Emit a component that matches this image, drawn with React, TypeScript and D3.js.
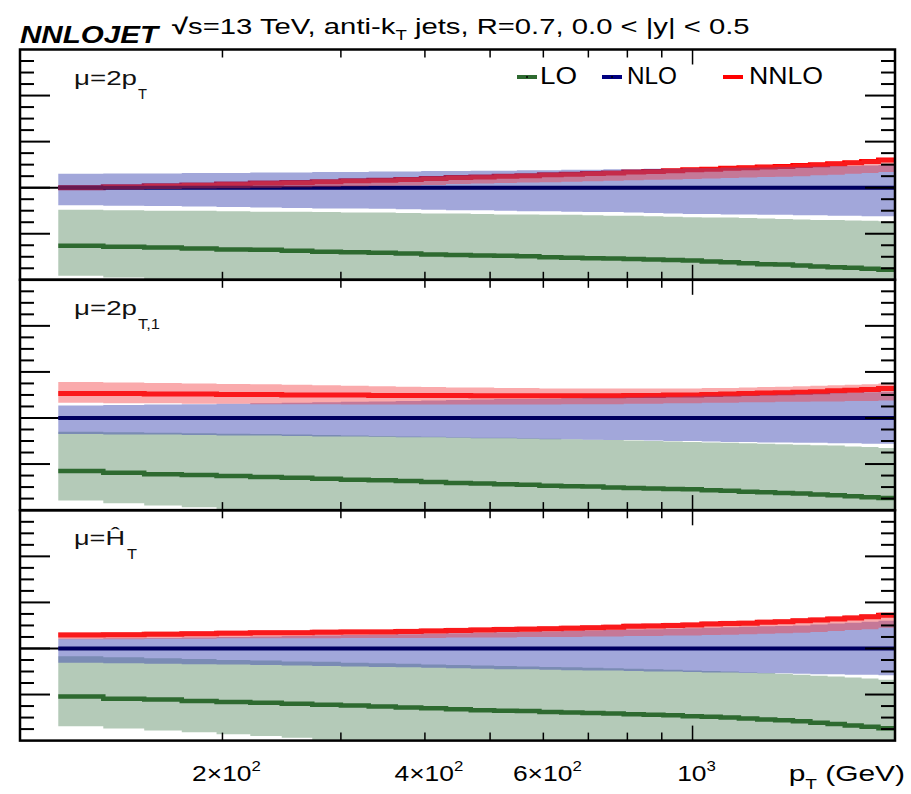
import React from 'react';
import * as d3 from 'd3';

// ---------- data ----------
const binEdges = [114, 133, 153, 174, 196, 220, 245, 272, 300, 330, 362, 395, 430, 468, 507, 548, 592, 638, 686, 737, 790, 846, 905, 967, 1032, 1101, 1172, 1248, 1327, 1410, 1497, 1588, 1684, 1784, 1890, 2000];

const xMinorTicks = [200, 300, 400, 500, 600, 700, 800, 900];
const xMajorTicks = [1000];
const xTickLabels = [
  { v: 200, base: '2×10', exp: '2' },
  { v: 400, base: '4×10', exp: '2' },
  { v: 600, base: '6×10', exp: '2' },
  { v: 1000, base: '10', exp: '3' },
];
const legendLabels = ['LO', 'NLO', 'NNLO'];

// panel 1: mu = 2 pT
const p1LO = [0.874, 0.872, 0.870, 0.868, 0.866, 0.865, 0.863, 0.861, 0.860, 0.859, 0.857, 0.855, 0.854, 0.853, 0.852, 0.851, 0.849, 0.848, 0.847, 0.846, 0.845, 0.844, 0.843, 0.842, 0.840, 0.838, 0.836, 0.834, 0.833, 0.831, 0.829, 0.827, 0.826, 0.824, 0.822];
const p1LOHi = [0.952, 0.951, 0.950, 0.950, 0.949, 0.948, 0.948, 0.947, 0.946, 0.946, 0.945, 0.944, 0.944, 0.943, 0.942, 0.942, 0.941, 0.941, 0.940, 0.939, 0.939, 0.938, 0.937, 0.936, 0.935, 0.935, 0.934, 0.933, 0.932, 0.931, 0.930, 0.930, 0.929, 0.928, 0.927];
const p1LOLo = [0.809, 0.805, 0.801, 0.797, 0.794, 0.791, 0.788, 0.785, 0.782, 0.779, 0.776, 0.773, 0.770, 0.767, 0.764, 0.761, 0.758, 0.755, 0.752, 0.749, 0.746, 0.743, 0.740, 0.737, 0.734, 0.731, 0.728, 0.725, 0.722, 0.719, 0.716, 0.713, 0.710, 0.707, 0.704];
const p1NLOHi = [1.030, 1.031, 1.031, 1.032, 1.032, 1.033, 1.033, 1.034, 1.034, 1.035, 1.035, 1.036, 1.036, 1.037, 1.037, 1.038, 1.038, 1.039, 1.039, 1.040, 1.040, 1.041, 1.041, 1.042, 1.042, 1.043, 1.043, 1.044, 1.045, 1.045, 1.046, 1.047, 1.047, 1.048, 1.049];
const p1NLOLo = [0.962, 0.961, 0.960, 0.959, 0.958, 0.957, 0.956, 0.955, 0.955, 0.954, 0.953, 0.952, 0.951, 0.951, 0.950, 0.949, 0.949, 0.948, 0.947, 0.947, 0.946, 0.945, 0.944, 0.943, 0.943, 0.942, 0.942, 0.941, 0.941, 0.940, 0.940, 0.939, 0.939, 0.938, 0.938];
const p1NNLO = [1.000, 1.002, 1.004, 1.006, 1.008, 1.010, 1.011, 1.013, 1.015, 1.016, 1.018, 1.020, 1.022, 1.023, 1.025, 1.026, 1.028, 1.029, 1.031, 1.032, 1.034, 1.035, 1.037, 1.039, 1.040, 1.042, 1.043, 1.045, 1.046, 1.048, 1.050, 1.052, 1.054, 1.057, 1.060];
const p1NNLOHi = [1.004, 1.006, 1.008, 1.010, 1.012, 1.014, 1.015, 1.017, 1.019, 1.020, 1.022, 1.024, 1.026, 1.027, 1.029, 1.030, 1.032, 1.033, 1.035, 1.036, 1.038, 1.039, 1.041, 1.043, 1.044, 1.046, 1.047, 1.049, 1.050, 1.052, 1.054, 1.056, 1.058, 1.061, 1.064];
const p1NNLOLo = [0.995, 0.996, 0.997, 0.998, 0.999, 1.000, 1.001, 1.002, 1.003, 1.004, 1.005, 1.006, 1.008, 1.009, 1.010, 1.011, 1.012, 1.013, 1.014, 1.015, 1.016, 1.017, 1.018, 1.019, 1.020, 1.021, 1.022, 1.023, 1.024, 1.025, 1.027, 1.028, 1.030, 1.032, 1.034];

// panel 2: mu = 2 pT,1
const p2LO = [0.885, 0.881, 0.878, 0.876, 0.874, 0.872, 0.870, 0.868, 0.866, 0.865, 0.863, 0.861, 0.859, 0.858, 0.856, 0.855, 0.853, 0.852, 0.851, 0.849, 0.848, 0.847, 0.846, 0.845, 0.843, 0.842, 0.840, 0.839, 0.837, 0.836, 0.834, 0.832, 0.830, 0.828, 0.826];
const p2LOHi = [0.970, 0.969, 0.968, 0.967, 0.966, 0.965, 0.964, 0.963, 0.962, 0.961, 0.960, 0.959, 0.958, 0.957, 0.957, 0.956, 0.955, 0.954, 0.953, 0.952, 0.951, 0.950, 0.949, 0.948, 0.947, 0.946, 0.945, 0.944, 0.943, 0.942, 0.941, 0.940, 0.938, 0.937, 0.935];
const p2LOLo = [0.821, 0.815, 0.810, 0.806, 0.802, 0.799, 0.796, 0.793, 0.790, 0.787, 0.784, 0.781, 0.778, 0.775, 0.772, 0.769, 0.766, 0.763, 0.760, 0.757, 0.754, 0.751, 0.748, 0.745, 0.742, 0.739, 0.736, 0.733, 0.730, 0.727, 0.724, 0.721, 0.718, 0.715, 0.712];
const p2NLOHi = [1.027, 1.028, 1.029, 1.030, 1.031, 1.032, 1.033, 1.034, 1.035, 1.036, 1.037, 1.038, 1.039, 1.040, 1.041, 1.041, 1.042, 1.043, 1.044, 1.044, 1.045, 1.046, 1.046, 1.047, 1.048, 1.048, 1.049, 1.050, 1.051, 1.052, 1.053, 1.054, 1.055, 1.056, 1.057];
const p2NLOLo = [0.965, 0.964, 0.964, 0.963, 0.962, 0.962, 0.961, 0.960, 0.960, 0.959, 0.958, 0.958, 0.957, 0.956, 0.956, 0.955, 0.954, 0.954, 0.953, 0.952, 0.952, 0.951, 0.950, 0.950, 0.949, 0.948, 0.948, 0.947, 0.947, 0.946, 0.946, 0.945, 0.945, 0.944, 0.944];
const p2NNLO = [1.053, 1.053, 1.052, 1.052, 1.051, 1.051, 1.050, 1.050, 1.050, 1.049, 1.049, 1.049, 1.049, 1.048, 1.048, 1.048, 1.048, 1.048, 1.048, 1.048, 1.049, 1.049, 1.050, 1.050, 1.051, 1.052, 1.053, 1.054, 1.055, 1.056, 1.057, 1.059, 1.060, 1.062, 1.064];
const p2NNLOHi = [1.078, 1.077, 1.076, 1.075, 1.074, 1.073, 1.072, 1.071, 1.070, 1.069, 1.068, 1.067, 1.066, 1.066, 1.065, 1.065, 1.064, 1.064, 1.064, 1.064, 1.064, 1.064, 1.064, 1.064, 1.065, 1.065, 1.066, 1.067, 1.068, 1.069, 1.070, 1.071, 1.072, 1.073, 1.075];
const p2NNLOLo = [1.033, 1.032, 1.032, 1.031, 1.031, 1.030, 1.030, 1.030, 1.029, 1.029, 1.029, 1.029, 1.029, 1.029, 1.029, 1.029, 1.029, 1.030, 1.030, 1.030, 1.031, 1.031, 1.032, 1.032, 1.033, 1.033, 1.034, 1.034, 1.035, 1.035, 1.036, 1.036, 1.037, 1.037, 1.038];

// panel 3: mu = HT-hat
const p3LO = [0.896, 0.891, 0.889, 0.886, 0.884, 0.882, 0.880, 0.878, 0.876, 0.874, 0.872, 0.870, 0.868, 0.866, 0.865, 0.864, 0.862, 0.861, 0.860, 0.859, 0.857, 0.856, 0.855, 0.853, 0.852, 0.850, 0.848, 0.846, 0.844, 0.842, 0.839, 0.836, 0.833, 0.830, 0.827];
const p3LOHi = [0.983, 0.981, 0.979, 0.977, 0.975, 0.974, 0.972, 0.971, 0.969, 0.968, 0.967, 0.965, 0.964, 0.963, 0.962, 0.961, 0.960, 0.959, 0.958, 0.957, 0.956, 0.955, 0.954, 0.952, 0.951, 0.950, 0.948, 0.947, 0.945, 0.943, 0.941, 0.939, 0.937, 0.935, 0.932];
const p3LOLo = [0.831, 0.826, 0.822, 0.818, 0.814, 0.810, 0.806, 0.801, 0.797, 0.794, 0.791, 0.788, 0.785, 0.782, 0.779, 0.776, 0.773, 0.770, 0.767, 0.764, 0.761, 0.758, 0.755, 0.752, 0.749, 0.746, 0.743, 0.740, 0.737, 0.734, 0.731, 0.728, 0.725, 0.722, 0.719];
const p3NLOHi = [1.021, 1.022, 1.023, 1.024, 1.025, 1.026, 1.027, 1.028, 1.029, 1.030, 1.031, 1.032, 1.033, 1.034, 1.035, 1.036, 1.037, 1.038, 1.039, 1.040, 1.041, 1.042, 1.043, 1.044, 1.045, 1.046, 1.047, 1.048, 1.049, 1.050, 1.052, 1.054, 1.056, 1.058, 1.060];
const p3NLOLo = [0.969, 0.968, 0.967, 0.966, 0.965, 0.964, 0.963, 0.962, 0.961, 0.960, 0.959, 0.958, 0.957, 0.956, 0.955, 0.955, 0.954, 0.953, 0.952, 0.952, 0.951, 0.950, 0.950, 0.949, 0.948, 0.948, 0.947, 0.946, 0.946, 0.945, 0.944, 0.944, 0.943, 0.943, 0.942];
const p3NNLO = [1.029, 1.030, 1.031, 1.032, 1.033, 1.034, 1.034, 1.035, 1.036, 1.036, 1.037, 1.038, 1.039, 1.040, 1.041, 1.042, 1.043, 1.044, 1.045, 1.046, 1.048, 1.049, 1.050, 1.051, 1.053, 1.054, 1.055, 1.057, 1.058, 1.060, 1.062, 1.064, 1.066, 1.069, 1.072];
const p3NNLOHi = [1.035, 1.036, 1.037, 1.038, 1.039, 1.040, 1.040, 1.041, 1.042, 1.042, 1.043, 1.044, 1.045, 1.046, 1.047, 1.048, 1.049, 1.050, 1.051, 1.052, 1.054, 1.055, 1.056, 1.057, 1.059, 1.060, 1.061, 1.063, 1.064, 1.066, 1.068, 1.070, 1.072, 1.075, 1.078];
const p3NNLOLo = [1.020, 1.020, 1.021, 1.021, 1.022, 1.022, 1.022, 1.022, 1.023, 1.023, 1.023, 1.023, 1.024, 1.024, 1.024, 1.025, 1.025, 1.025, 1.026, 1.026, 1.027, 1.027, 1.028, 1.028, 1.029, 1.030, 1.031, 1.032, 1.033, 1.034, 1.036, 1.038, 1.040, 1.042, 1.045];

const panels = [
  { main: 'μ=2p', mainW: 63, sub: 'T', subX: 138, subW: 9, lo: p1LO, loHi: p1LOHi, loLo: p1LOLo, nloHi: p1NLOHi, nloLo: p1NLOLo, nnlo: p1NNLO, nnloHi: p1NNLOHi, nnloLo: p1NNLOLo },
  { main: 'μ=2p', mainW: 63, sub: 'T,1', subX: 138, subW: 22, lo: p2LO, loHi: p2LOHi, loLo: p2LOLo, nloHi: p2NLOHi, nloLo: p2NLOLo, nnlo: p2NNLO, nnloHi: p2NNLOHi, nnloLo: p2NNLOLo },
  { main: 'μ=Ĥ', mainW: 51, sub: 'T', subX: 127, subW: 10, lo: p3LO, loHi: p3LOHi, loLo: p3LOLo, nloHi: p3NLOHi, nloLo: p3NLOLo, nnlo: p3NNLO, nnloHi: p3NNLOHi, nnloLo: p3NNLOLo },
];

// ---------- layout ----------
const W = 911, H = 794;
const X0 = 20, X1 = 895;
const panelTops = [49.5, 279.8, 510.3];
const PH = 230.3;
const FONT = '"Liberation Sans", Arial, Helvetica, sans-serif';

const COL_LO_BAND = '#b4cab8';
const COL_LO_LINE = '#2e6a30';
const COL_NLO_BAND = 'rgb(58,67,176)';
const COL_NLO_LINE = '#000060';
const COL_NNLO_BAND = 'rgb(243,57,62)';
const COL_NNLO_LINE = '#ff0000';

const x = d3.scaleLog().domain([100, 2000]).range([X0, X1]);

function stepPath(vals: number[], y: d3.ScaleLinear<number, number>) {
  const pts: [number, number][] = vals.map((v, i) => [x(binEdges[i]), y(v)]);
  pts.push([x(binEdges[vals.length]), y(vals[vals.length - 1])]);
  return d3.line().curve(d3.curveStepAfter)(pts) || '';
}

function bandPath(lo: number[], hi: number[], y: d3.ScaleLinear<number, number>) {
  const idx = d3.range(lo.length + 1);
  const area = d3
    .area<number>()
    .curve(d3.curveStepAfter)
    .x((i) => x(binEdges[i]))
    .y0((i) => y(lo[Math.min(i, lo.length - 1)]))
    .y1((i) => y(hi[Math.min(i, hi.length - 1)]));
  return area(idx) || '';
}

function Panel({ p, idx }: { p: any; idx: number }) {
  const top = panelTops[idx];
  const bottom = top + PH;
  const y = d3.scaleLinear().domain([0.8, 1.3]).range([bottom, top]);
  const clipId = `clip${idx}`;
  const yMinor = d3.range(0, 21).map((k) => 0.8 + k * 0.025);
  return (
    <g>
      <defs>
        <clipPath id={clipId}>
          <rect x={X0} y={top} width={X1 - X0} height={PH} />
        </clipPath>
      </defs>
      <g clipPath={`url(#${clipId})`}>
        <path d={bandPath(p.loLo, p.loHi, y)} fill={COL_LO_BAND} />
        <line x1={X0} x2={X1} y1={y(1)} y2={y(1)} stroke="#000" strokeWidth={2} />
        <path d={stepPath(p.lo, y)} fill="none" stroke={COL_LO_LINE} strokeWidth={4.5} />
        <path d={stepPath(p.nnlo, y)} fill="none" stroke={COL_NNLO_LINE} strokeWidth={5} />
        <path d={bandPath(p.nloLo, p.nloHi, y)} fill={COL_NLO_BAND} fillOpacity={0.47} />
        <path d={stepPath(p.lo.map(() => 1), y)} fill="none" stroke={COL_NLO_LINE} strokeWidth={4} />
        <path d={bandPath(p.nnloLo, p.nnloHi, y)} fill={COL_NNLO_BAND} fillOpacity={0.43} />
      </g>
      {yMinor.map((v, k) => {
        const major = k % 4 === 0;
        const len = major ? 30 : 14;
        const yy = y(v);
        if (k === 0 || k === 20) return null;
        return (
          <g key={'yt' + k}>
            <line x1={X0} x2={X0 + len} y1={yy} y2={yy} stroke="#000" strokeWidth={2} />
            <line x1={X1 - len} x2={X1} y1={yy} y2={yy} stroke="#000" strokeWidth={2} />
          </g>
        );
      })}
      {xMinorTicks.map((v) => (
        <g key={'xt' + v}>
          <line x1={x(v)} x2={x(v)} y1={bottom} y2={bottom - 8} stroke="#000" strokeWidth={1.5} />
          <line x1={x(v)} x2={x(v)} y1={top} y2={top + 8} stroke="#000" strokeWidth={1.5} />
        </g>
      ))}
      {xMajorTicks.map((v) => (
        <g key={'xT' + v}>
          <line x1={x(v)} x2={x(v)} y1={bottom} y2={bottom - 15} stroke="#000" strokeWidth={1.5} />
          <line x1={x(v)} x2={x(v)} y1={top} y2={top + 15} stroke="#000" strokeWidth={1.5} />
        </g>
      ))}
      <rect x={X0} y={top} width={X1 - X0} height={PH} fill="none" stroke="#000" strokeWidth={2.5} />
      <text x={74} y={top + 35} fontSize={21} fill="#111" textLength={p.mainW} lengthAdjust="spacingAndGlyphs">{p.main}</text>
      <text x={p.subX} y={top + 49} fontSize={15} fill="#111" textLength={p.subW} lengthAdjust="spacingAndGlyphs">{p.sub}</text>
    </g>
  );
}

export default function App() {
  const legendCols = [COL_LO_LINE, '#000080', COL_NNLO_LINE];
  const legendX = [517, 602, 723];
  const legendTX = [540, 627, 749];
  const legendTW = [37, 50, 74];
  return (
    <svg width={W} height={H} style={{ position: 'absolute', left: 0, top: 0, background: '#fff' }} fontFamily={FONT}>
      <rect x={0} y={0} width={W} height={H} fill="#fff" />
      <text x={20} y={43} fontSize={24} fontWeight="bold" fontStyle="italic" textLength={138} lengthAdjust="spacingAndGlyphs">NNLOJET</text>
      <g transform="translate(172,34) scale(1.33,1)">
        <text x={0} y={0} fontSize={22}>
          <tspan fontWeight="bold">√</tspan>
          <tspan>s=13 TeV, anti-k</tspan>
          <tspan fontSize={14} dy={6}>T</tspan>
          <tspan dy={-6}> jets, R=0.7, 0.0 &lt; |y| &lt; 0.5</tspan>
        </text>
      </g>
      {panels.map((p, i) => (
        <Panel key={i} p={p} idx={i} />
      ))}
      {legendLabels.map((l, i) => (
        <g key={l}>
          <line x1={legendX[i]} x2={legendX[i] + 20} y1={77} y2={77} stroke={legendCols[i]} strokeWidth={4} />
          {i < 2 && <circle cx={legendX[i] + 10} cy={77} r={1} fill="#000" />}
          <text x={legendTX[i]} y={84} fontSize={23} textLength={legendTW[i]} lengthAdjust="spacingAndGlyphs">{l}</text>
        </g>
      ))}
      {xTickLabels.map((t) => (
        <g key={t.v} transform={`translate(${x(t.v) + 4},781) scale(1.2,1)`}>
          <text x={0} y={0} fontSize={22} textAnchor="middle">
            <tspan>{t.base}</tspan>
            <tspan fontSize={14} dy={-10}>{t.exp}</tspan>
          </text>
        </g>
      ))}
      <g transform="translate(905,781) scale(1.36,1)">
        <text x={0} y={0} fontSize={22} textAnchor="end">
          <tspan>p</tspan>
          <tspan fontSize={14} dy={8}>T</tspan>
          <tspan dy={-8}> (GeV)</tspan>
        </text>
      </g>
    </svg>
  );
}
